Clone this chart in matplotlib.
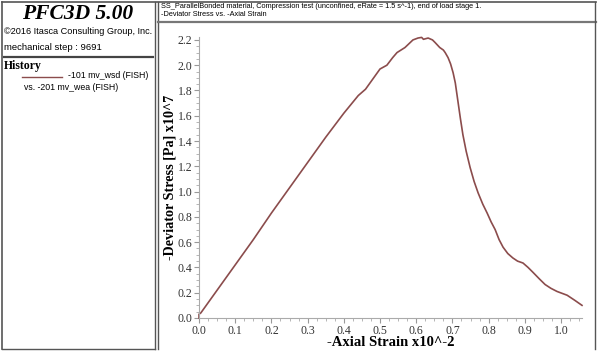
import matplotlib
matplotlib.use("Agg")
import matplotlib.pyplot as plt
from matplotlib.lines import Line2D
from matplotlib.ticker import MultipleLocator, AutoMinorLocator

# Data (strain x10^-2, stress x10^7 Pa)
strain = [0.0, 0.0, 0.005, 0.01, 0.02, 0.05, 0.1, 0.15, 0.2, 0.25, 0.3, 0.35,
          0.4, 0.44, 0.46, 0.5, 0.519, 0.535, 0.547, 0.569, 0.58, 0.591, 0.605,
          0.615, 0.62, 0.633, 0.645, 0.652, 0.665, 0.675, 0.68, 0.688, 0.695,
          0.702, 0.708, 0.715, 0.722, 0.729, 0.738, 0.749, 0.76, 0.771, 0.784,
          0.796, 0.807, 0.818, 0.829, 0.84, 0.853, 0.867, 0.88, 0.895, 0.909,
          0.923, 0.94, 0.956, 0.972, 0.989, 1.003, 1.017, 1.038, 1.058]
stress = [0.0, 0.03, 0.04, 0.06, 0.1, 0.22, 0.42, 0.62, 0.83, 1.03, 1.23, 1.43,
          1.62, 1.76, 1.81, 1.97, 2.0, 2.06, 2.1, 2.14, 2.17, 2.2, 2.215,
          2.22, 2.205, 2.215, 2.2, 2.18, 2.14, 2.12, 2.1, 2.06, 2.01,
          1.94, 1.86, 1.72, 1.58, 1.45, 1.32, 1.19, 1.08, 0.99, 0.9,
          0.83, 0.76, 0.7, 0.62, 0.56, 0.51, 0.475, 0.45, 0.435, 0.4,
          0.36, 0.31, 0.265, 0.235, 0.21, 0.195, 0.18, 0.14, 0.1]

title_lines = ["SS_ParallelBonded material, Compression test (unconfined, eRate = 1.5 s^-1), end of load stage 1.",
               "-Deviator Stress vs. -Axial Strain"]

W, H = 598, 351
fig = plt.figure(figsize=(W / 100, H / 100), dpi=100)
fig.patch.set_facecolor("white")

def fx(px):
    return px / W

def fy(py):
    return 1 - py / H

serif = "Liberation Serif"
sans = "Liberation Sans"
curve_color = "#8b4c4c"

# frame lines
frame = [((2, 2), (2, 349), 1.2, "#555555"),
         ((2, 596), (2, 2), 1.2, "#555555"),
         ((155, 155), (2, 349), 1.0, "#555555"),
         ((158, 158), (2, 349), 1.0, "#555555"),
         ((158, 596), (22, 22), 1.6, "#777777"),
         ((595, 595), (2, 349), 1.0, "#555555"),
         ((2, 155), (349, 349), 1.0, "#555555"),
         ((4, 153), (57, 57), 1.6, "#444444")]
for xs, ys, lw, c in frame:
    fig.add_artist(Line2D([fx(xs[0]), fx(xs[1])], [fy(ys[0]), fy(ys[1])],
                          lw=lw, color=c, transform=fig.transFigure))

# left info panel
fig.text(fx(78), fy(14), "PFC3D 5.00", family=serif, weight="bold", style="italic",
         fontsize=15.5, ha="center", va="center")
fig.text(fx(4), fy(32), "\u00a92016 Itasca Consulting Group, Inc.", family=sans,
         fontsize=6.6, ha="left", va="center")
fig.text(fx(4), fy(48), "mechanical step : 9691", family=sans, fontsize=6.8,
         ha="left", va="center")
fig.text(fx(4), fy(66), "History", family=serif, weight="bold", fontsize=8.5,
         ha="left", va="center")
fig.add_artist(Line2D([fx(22), fx(62)], [fy(77), fy(77)], lw=1.0, color=curve_color,
                      transform=fig.transFigure))
fig.text(fx(68), fy(76), "-101 mv_wsd (FISH)", family=sans, fontsize=6.3,
         ha="left", va="center")
fig.text(fx(24), fy(87), "vs. -201 mv_wea (FISH)", family=sans, fontsize=6.3,
         ha="left", va="center")

# title box
fig.text(fx(161), fy(6), title_lines[0], family=sans, fontsize=5.3, ha="left", va="center")
fig.text(fx(161), fy(15), title_lines[1], family=sans, fontsize=5.3, ha="left", va="center")

# plot
ax = fig.add_axes([fx(199), fy(318), (582 - 199) / W, (318 - 37.4) / H])
ax.plot(strain, stress, color=curve_color, lw=1.2, clip_on=False)
ax.set_xlim(0, 1.058)
ax.set_ylim(0, 2.22)
ax.xaxis.set_major_locator(MultipleLocator(0.1))
ax.yaxis.set_major_locator(MultipleLocator(0.2))
ax.xaxis.set_minor_locator(AutoMinorLocator(4))
ax.yaxis.set_minor_locator(AutoMinorLocator(4))
ax.xaxis.set_major_formatter(plt.FuncFormatter(lambda v, p: f"{v:.1f}"))
ax.yaxis.set_major_formatter(plt.FuncFormatter(lambda v, p: f"{v:.1f}"))
for s in ["top", "right"]:
    ax.spines[s].set_visible(False)
for s in ["left", "bottom"]:
    ax.spines[s].set_color("#aaaaaa")
    ax.spines[s].set_linewidth(0.8)
ax.tick_params(which="major", length=3.5, width=0.8, color="#999999", labelsize=8.5,
               pad=1.2, labelcolor="#333333")
ax.tick_params(which="minor", length=2, width=0.6, color="#aaaaaa")
for lab in ax.get_xticklabels() + ax.get_yticklabels():
    lab.set_family(serif)
ax.set_xlabel("-Axial Strain x10^-2", family=serif, weight="bold", fontsize=10.5, labelpad=-0.5)
ax.set_ylabel("-Deviator Stress [Pa] x10^7", family=serif, weight="bold", fontsize=10.2,
              labelpad=1)

fig.savefig("out.png", dpi=100, facecolor="white")
